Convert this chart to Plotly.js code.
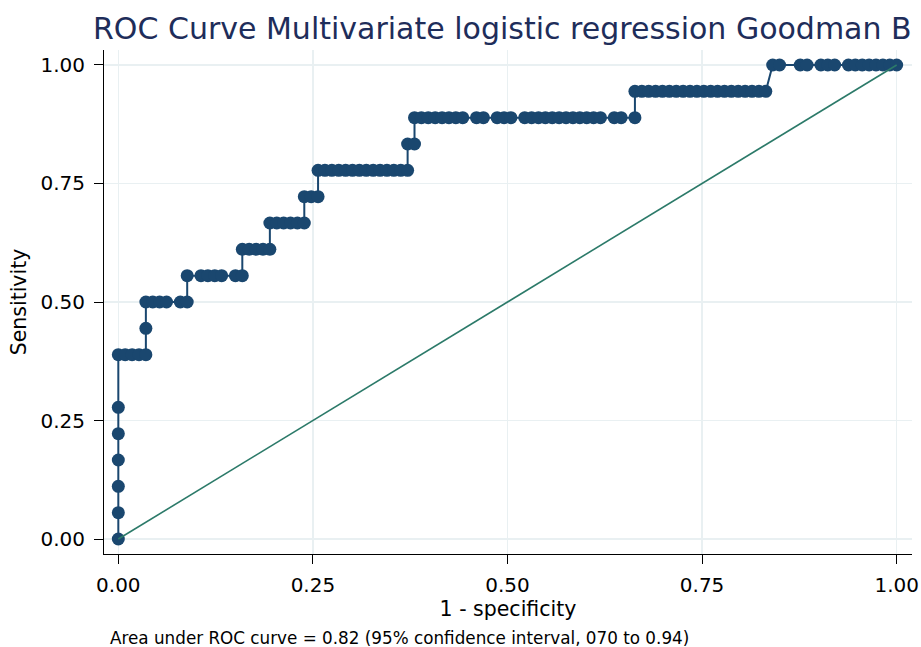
<!DOCTYPE html>
<html>
<head>
<meta charset="utf-8">
<script src="https://cdn.plot.ly/plotly-3.0.1.min.js"></script>
<style>
  html, body { margin: 0; padding: 0; background: #ffffff; }
  #chart { width: 921px; height: 647px; }
</style>
</head>
<body>
<div id="chart"></div>
<script>
// Number of negatives (controls) and positives (cases) implied by the ROC steps
const nControls = 113;
const nCases = 18;

// Cumulative false-positive counts at each cutoff (x = fp / nControls)
const fpCounts = [
  0, 0, 0, 0, 0, 0, 0,
  1, 2, 3, 4,
  4,
  4, 5, 6, 7, 9, 10,
  10, 12, 13, 14, 15, 17, 18,
  18, 19, 20, 21, 22,
  22, 23, 24, 25, 26, 27,
  27, 28, 29,
  29, 30, 31, 32, 33, 34, 35, 36, 37, 38, 39, 40, 41, 42,
  42, 43,
  43, 44, 45, 46, 47, 48, 49, 50, 52, 53, 55, 56, 57, 59, 60, 61, 62, 63, 64, 65, 66, 67, 68, 69, 70, 72, 73, 75,
  75, 76, 77, 78, 79, 80, 81, 82, 83, 84, 85, 86, 87, 88, 89, 90, 91, 92, 93, 94,
  95, 96, 99, 100, 102, 103, 104, 106, 107, 108, 109, 110, 111, 112, 113
];

// Cumulative true-positive counts at each cutoff (y = tp / nCases)
const tpCounts = [
  0, 1, 2, 3, 4, 5, 7,
  7, 7, 7, 7,
  8,
  9, 9, 9, 9, 9, 9,
  10, 10, 10, 10, 10, 10, 10,
  11, 11, 11, 11, 11,
  12, 12, 12, 12, 12, 12,
  13, 13, 13,
  14, 14, 14, 14, 14, 14, 14, 14, 14, 14, 14, 14, 14, 14,
  15, 15,
  16, 16, 16, 16, 16, 16, 16, 16, 16, 16, 16, 16, 16, 16, 16, 16, 16, 16, 16, 16, 16, 16, 16, 16, 16, 16, 16, 16,
  17, 17, 17, 17, 17, 17, 17, 17, 17, 17, 17, 17, 17, 17, 17, 17, 17, 17, 17, 17,
  18, 18, 18, 18, 18, 18, 18, 18, 18, 18, 18, 18, 18, 18, 18
];

// Reference (chance) line
const refX = [0, 1];
const refY = [0, 1];

// Axis ticks
const tickValues = [0, 0.25, 0.5, 0.75, 1];
const tickLabels = ["0.00", "0.25", "0.50", "0.75", "1.00"];

const titleText = "ROC Curve Multivariate logistic regression Goodman B";
const xTitleText = "1 - specificity";
const yTitleText = "Sensitivity";
const noteText = "Area under ROC curve = 0.82 (95% confidence interval, 070 to 0.94)";

const rocX = fpCounts.map(v => v / nControls);
const rocY = tpCounts.map(v => v / nCases);

const FONT = "DejaVu Sans, Liberation Sans, Arial, sans-serif";
const navy = "#1a476f";
const teal = "#2c7a69";
const gridCol = "#e9f0f2";

const traces = [
  {
    x: rocX, y: rocY,
    type: "scatter", mode: "lines+markers",
    line: { color: navy, width: 2 },
    marker: { color: navy, size: 13 },
    hoverinfo: "x+y",
    showlegend: false
  },
  {
    x: refX, y: refY,
    type: "scatter", mode: "lines",
    line: { color: teal, width: 1.6 },
    hoverinfo: "skip",
    showlegend: false
  }
];

const axisCommon = {
  tickvals: tickValues,
  ticktext: tickLabels,
  ticks: "outside",
  ticklen: 9,
  tickwidth: 1,
  tickcolor: "#000000",
  showline: true,
  linecolor: "#000000",
  linewidth: 1,
  mirror: false,
  showgrid: true,
  gridcolor: gridCol,
  gridwidth: 1.5,
  zeroline: false,
  tickfont: { family: FONT, size: 20, color: "#000000" },
  fixedrange: true
};

const layout = {
  width: 921,
  height: 647,
  paper_bgcolor: "#ffffff",
  plot_bgcolor: "#ffffff",
  margin: { l: 104, r: 9, t: 50, b: 93, pad: 0 },
  font: { family: FONT, color: "#000000" },
  title: {
    text: titleText,
    font: { family: FONT, size: 30, color: "#1e2d5a" },
    xref: "container", x: 93 / 921, xanchor: "left",
    yref: "container", y: 1 - 28.5 / 647, yanchor: "middle"
  },
  xaxis: Object.assign({}, axisCommon, {
    range: [-0.0184, 1.0197],
    ticklabelstandoff: 4,
    title: { text: xTitleText, font: { family: FONT, size: 20.5, color: "#000000" }, standoff: 4 }
  }),
  yaxis: Object.assign({}, axisCommon, {
    range: [-0.0316, 1.0316],
    ticklabelstandoff: 5,
    title: { text: yTitleText, font: { family: FONT, size: 20.5, color: "#000000" }, standoff: 8 }
  }),
  annotations: [
    {
      text: noteText,
      xref: "paper", yref: "paper",
      x: (108 - 104) / 808, xanchor: "left",
      y: (554 - 638) / 504, yanchor: "middle",
      showarrow: false,
      font: { family: FONT, size: 16.8, color: "#000000" }
    }
  ]
};

Plotly.newPlot("chart", traces, layout, { staticPlot: true, displayModeBar: false });
</script>
</body>
</html>
